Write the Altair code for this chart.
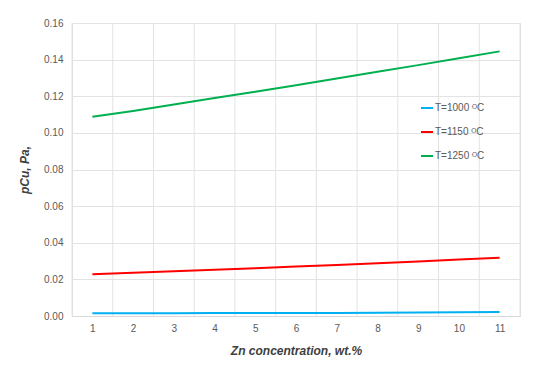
import altair as alt
import pandas as pd

zn = [1, 2, 3, 4, 5, 6, 7, 8, 9, 10, 11]
t1000 = [0.0015, 0.0015, 0.0015, 0.0016, 0.0016, 0.0017, 0.0017, 0.0018, 0.0019, 0.0020, 0.0022]
t1150 = [0.0228, 0.0236, 0.0244, 0.0252, 0.0261, 0.0270, 0.0279, 0.0288, 0.0298, 0.0308, 0.0318]
t1250 = [0.1088, 0.1120, 0.1155, 0.1190, 0.1225, 0.1260, 0.1297, 0.1334, 0.1370, 0.1407, 0.1445]
series = ["T=1000 \u1d3cC", "T=1150 \u1d3cC", "T=1250 \u1d3cC"]
colors = ["#00B0F0", "#FF0000", "#00B050"]
y_ticks = [0.0, 0.02, 0.04, 0.06, 0.08, 0.10, 0.12, 0.14, 0.16]
cat_bounds = [0.5, 1.5, 2.5, 3.5, 4.5, 5.5, 6.5, 7.5, 8.5, 9.5, 10.5, 11.5]

rows = []
for name, vals in zip(series, [t1000, t1150, t1250]):
    for x, v in zip(zn, vals):
        rows.append({"zn": x, "p": v, "series": name})
df = pd.DataFrame(rows)
grid_df = pd.DataFrame({"b": cat_bounds})

FONT = "Liberation Sans"
GRID = "#e3e3e3"
xscale = alt.Scale(domain=[0.5, 11.5], nice=False, zero=False)
yscale = alt.Scale(domain=[0, 0.16], nice=False)
xaxis = alt.Axis(values=zn, grid=False, ticks=False, domain=True, domainColor="#d9d9d9",
                 labelFontSize=10, labelColor="#595959", labelFont=FONT, labelPadding=7,
                 title="Zn concentration, wt.%", titleFont=FONT, titleFontSize=12,
                 titleFontWeight="bold", titleFontStyle="italic", titleColor="#404040",
                 titlePadding=12)

vgrid = alt.Chart(grid_df).mark_rule(color=GRID, strokeWidth=1).encode(
    x=alt.X("b:Q", scale=xscale, axis=xaxis)
)

lines = alt.Chart(df).mark_line(strokeWidth=2).encode(
    x=alt.X("zn:Q", scale=xscale, axis=xaxis),
    y=alt.Y("p:Q", scale=yscale,
            axis=alt.Axis(values=y_ticks, format=".2f", grid=True, gridColor=GRID, ticks=False,
                          domain=False, labelFontSize=10, labelColor="#595959", labelFont=FONT,
                          labelPadding=9, title="pCu, Pa,", titleFont=FONT, titleFontSize=12,
                          titleFontWeight="bold", titleFontStyle="italic", titleColor="#404040",
                          titlePadding=12)),
    color=alt.Color("series:N", scale=alt.Scale(domain=series, range=colors),
                    legend=alt.Legend(orient="none", legendX=348, legendY=78, title=None,
                                      symbolType="stroke", symbolSize=144, symbolStrokeWidth=2,
                                      labelFont=FONT, labelFontSize=10, labelColor="#595959",
                                      labelOffset=1, rowPadding=12)),
    detail="series:N",
)

chart = alt.layer(vgrid, lines).properties(
    width=448, height=293,
    autosize=alt.AutoSizeParams(type="none"),
    padding={"left": 64, "top": 15, "right": 22, "bottom": 50},
).configure_view(stroke=None).configure(background="white")

chart.save("out.html", embed_options={"renderer": "svg", "actions": False})
